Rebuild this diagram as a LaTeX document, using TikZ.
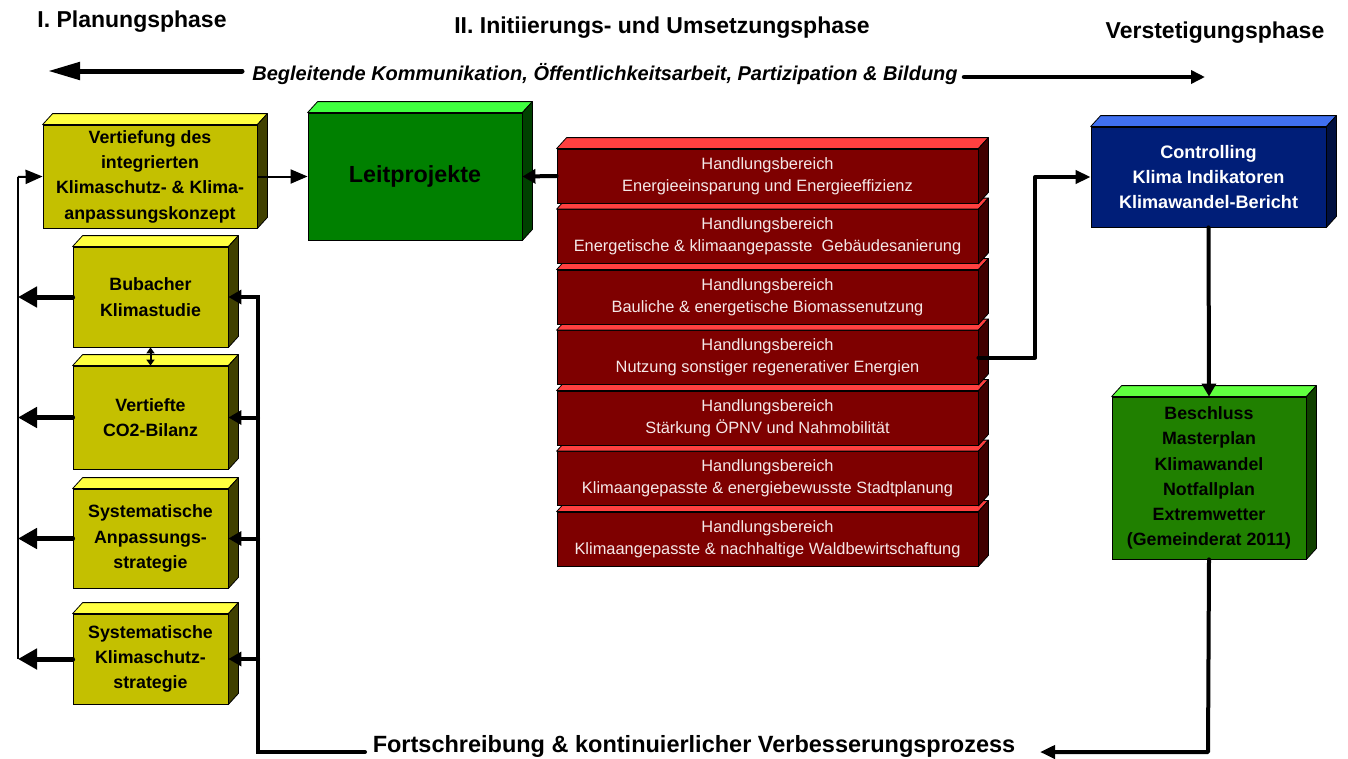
\documentclass[tikz,border=0pt]{standalone}
\usepackage{fontspec}
\setmainfont{Liberation Sans}
\usetikzlibrary{arrows.meta,calc}
\definecolor{yfront}{HTML}{C4C000}
\definecolor{ytop}{HTML}{FFFF40}
\definecolor{yside}{HTML}{404000}
\definecolor{gfront}{HTML}{008000}
\definecolor{gtop}{HTML}{40FF40}
\definecolor{gside}{HTML}{004000}
\definecolor{rfront}{HTML}{7E0000}
\definecolor{rtop}{HTML}{FF4040}
\definecolor{rside}{HTML}{400000}
\definecolor{bfront}{HTML}{001E78}
\definecolor{btop}{HTML}{4070F0}
\definecolor{bside}{HTML}{001040}
\definecolor{lgfront}{HTML}{208000}
\definecolor{lgtop}{HTML}{60FF40}
\definecolor{lgside}{HTML}{104000}
\definecolor{rtext}{HTML}{F4E8E8}
\newcommand\quaderfaces[3]{%
  \filldraw[fill=#2,draw=black,line width=0.8pt,line join=round] (#1.north west) -- ++(10,-11) -- ([shift={(10,-11)}]#1.north east) -- (#1.north east) -- cycle;
  \filldraw[fill=#3,draw=black,line width=0.8pt,line join=round] (#1.north east) -- ++(10,-11) -- ([shift={(10,-11)}]#1.south east) -- (#1.south east) -- cycle;
}
\tikzset{
  quad/.style={draw=black,line width=0.8pt,rectangle,align=center,inner sep=0pt},
  ybox/.style={quad,fill=yfront,font=\fontsize{17.8}{25.3}\selectfont\bfseries},
  rbox/.style={quad,fill=rfront,text=rtext,minimum width=421pt,minimum height=54pt,font=\fontsize{16.4}{22}\selectfont},
  hdr/.style={font=\fontsize{23}{28}\selectfont\bfseries,inner sep=0pt},
  thinarr/.style={line width=2pt,-{Triangle[length=17pt,width=14pt]}},
  thickarr/.style={line width=5pt,line cap=round,-{Triangle[length=19pt,width=20pt]}},
  medarr/.style={line width=4pt,line cap=round,-{Triangle[length=13pt,width=14pt]}},
  medline/.style={line width=4pt,line cap=round,line join=round},
}
\begin{document}
\begin{tikzpicture}[x=1pt,y=-1pt]
\useasboundingbox[fill=white] (0,0) rectangle (1348,758);

% headers
\node[hdr] (h1) at (132,22) {I. Planungsphase};
\node[hdr] (h2) at (662,28) {II. Initiierungs- und Umsetzungsphase};
\node[hdr] (h3) at (1215,33) {Verstetigungsphase};
\node[font=\fontsize{20}{24}\selectfont\bfseries\itshape,inner sep=0pt] (comm) at (605,74) {Begleitende Kommunikation, Öffentlichkeitsarbeit, Partizipation \& Bildung};
\coordinate (cl) at (48,71);
\coordinate (cr) at (1205,77);
\draw[line width=5pt,line cap=round,-{Triangle[length=32pt,width=17pt]}] (242,71) -- (cl);
\draw[line width=4.5pt,line cap=round,-{Triangle[length=14pt,width=13pt]}] (964,77) -- (cr);

% yellow boxes
\node[ybox,minimum width=214pt,minimum height=103pt] (verti) at (150,176.5) {Vertiefung des\\integrierten\\Klimaschutz- \& Klima-\\anpassungskonzept};
\quaderfaces{verti}{ytop}{yside}
\node[ybox,minimum width=155pt,minimum height=100pt] (bub) at (150.5,297) {Bubacher\\Klimastudie};
\quaderfaces{bub}{ytop}{yside}
\node[ybox,minimum width=155pt,minimum height=103pt] (co2) at (150.5,417.5) {Vertiefte\\CO2-Bilanz};
\quaderfaces{co2}{ytop}{yside}
\node[ybox,minimum width=155pt,minimum height=99pt] (anp) at (150.5,538.5) {Systematische\\Anpassungs-\\strategie};
\quaderfaces{anp}{ytop}{yside}
\node[ybox,minimum width=155pt,minimum height=90pt] (ks) at (150.5,659) {Systematische\\Klimaschutz-\\strategie};
\quaderfaces{ks}{ytop}{yside}

% Leitprojekte
\node[quad,fill=gfront,minimum width=214pt,minimum height=127pt,font=\fontsize{23.3}{28}\selectfont\bfseries] (leit) at (415,176.5) {Leitprojekte};
\quaderfaces{leit}{gtop}{gside}

% red stack (bottom first)
\node[rbox] (r7) at (767.5,539) {Handlungsbereich\\Klimaangepasste \& nachhaltige Waldbewirtschaftung};
\quaderfaces{r7}{rtop}{rside}
\node[rbox] (r6) at (767.5,478.5) {Handlungsbereich\\Klimaangepasste \& energiebewusste Stadtplanung};
\quaderfaces{r6}{rtop}{rside}
\node[rbox] (r5) at (767.5,418) {Handlungsbereich\\Stärkung ÖPNV und Nahmobilität};
\quaderfaces{r5}{rtop}{rside}
\node[rbox] (r4) at (767.5,357.5) {Handlungsbereich\\Nutzung sonstiger regenerativer Energien};
\quaderfaces{r4}{rtop}{rside}
\node[rbox] (r3) at (767.5,297) {Handlungsbereich\\Bauliche \& energetische Biomassenutzung};
\quaderfaces{r3}{rtop}{rside}
\node[rbox] (r2) at (767.5,236.5) {Handlungsbereich\\Energetische \& klimaangepasste\ \ Gebäudesanierung};
\quaderfaces{r2}{rtop}{rside}
\node[rbox] (r1) at (767.5,176) {Handlungsbereich\\Energieeinsparung und Energieeffizienz};
\quaderfaces{r1}{rtop}{rside}

% Controlling
\node[quad,fill=bfront,text=white,minimum width=235pt,minimum height=100pt,font=\fontsize{18.1}{25}\selectfont\bfseries] (ctrl) at (1208.5,177) {Controlling\\Klima Indikatoren\\Klimawandel-Bericht};
\quaderfaces{ctrl}{btop}{bside}

% Beschluss
\node[quad,fill=lgfront,minimum width=194pt,minimum height=162pt,font=\fontsize{17.8}{25.2}\selectfont\bfseries] (besch) at (1209,478) {Beschluss\\Masterplan\\Klimawandel\\Notfallplan\\Extremwetter\\(Gemeinderat 2011)};
\quaderfaces{besch}{lgtop}{lgside}

% bottom text
\node[font=\fontsize{23.5}{28}\selectfont\bfseries,inner sep=0pt] (fort) at (694,746) {Fortschreibung \& kontinuierlicher Verbesserungsprozess};

% left collector
\coordinate (L1) at (18,177);
\coordinate (L5) at (18,659);
\draw[line width=2pt] (L5) -- (L1);
\draw[thinarr] (L1) -- (verti.west);
\draw[thickarr] (bub.west) -- (bub.west -| L1);
\draw[thickarr] (co2.west) -- (co2.west -| L1);
\draw[thickarr] (anp.west) -- (anp.west -| L1);
\draw[thickarr] (ks.west) -- (ks.west -| L1);

% right collector
\coordinate (R1) at (258,297);
\coordinate (R5) at (258,752);
\coordinate (B1) at (365,752);
\draw[medarr] (B1) -- (R5) -- (R1) -- (bub.east);
\draw[medarr] (co2.east -| R1) -- (co2.east);
\draw[medarr] (anp.east -| R1) -- (anp.east);
\draw[medarr] (ks.east -| R1) -- (ks.east);

% between Bubacher and CO2
\draw[line width=2pt,{Triangle[length=6pt,width=8pt]}-{Triangle[length=6pt,width=8pt]}] (bub.south) -- (co2.north);

% Vertiefung -> Leitprojekte
\draw[thinarr] (verti.east) -- (leit.west);
% red1 -> Leitprojekte
\draw[medarr] (r1.west) -- (leit.east);
% red4 -> Controlling
\coordinate (K1) at (1035,357.5);
\coordinate (K2) at (1035,177);
\draw[medline,-{Triangle[length=15pt,width=13pt]}] (r4.east) -- (K1) -- (K2) -- (ctrl.west);
% Controlling -> Beschluss
\draw[medarr] (ctrl.south) -- (besch.north);
% Beschluss -> bottom
\coordinate (E1) at (1208,752);
\coordinate (E2) at (1040,752);
\draw[medline,-{Triangle[length=15pt,width=13pt]}] (besch.south) -- (E1) -- (E2);
\end{tikzpicture}
\end{document}
